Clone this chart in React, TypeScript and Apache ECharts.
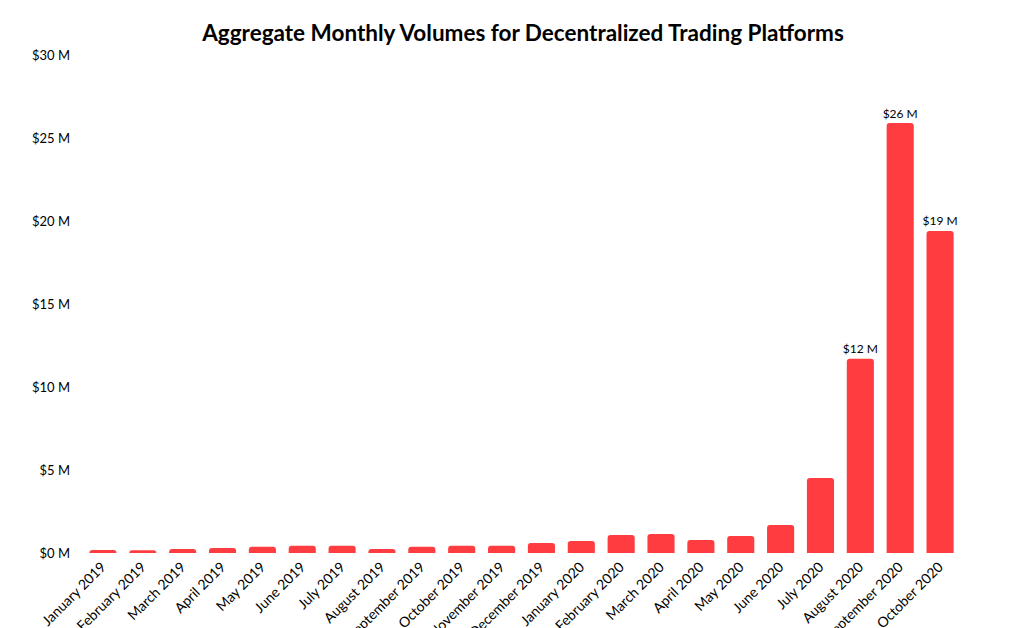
import React, { useEffect, useRef } from "react";
import * as echarts from "echarts";

const titleText = "Aggregate Monthly Volumes for Decentralized Trading Platforms";

const months = [
  "January 2019", "February 2019", "March 2019", "April 2019", "May 2019", "June 2019",
  "July 2019", "August 2019", "September 2019", "October 2019", "November 2019", "December 2019",
  "January 2020", "February 2020", "March 2020", "April 2020", "May 2020", "June 2020",
  "July 2020", "August 2020", "September 2020", "October 2020",
];

// monthly volume in $ millions
const volumes = [
  0.18, 0.17, 0.24, 0.3, 0.38, 0.44,
  0.44, 0.24, 0.38, 0.44, 0.44, 0.6,
  0.73, 1.08, 1.14, 0.78, 1.02, 1.69,
  4.52, 11.7, 25.9, 19.4,
];

const yTicks = [0, 5, 10, 15, 20, 25, 30];
const labelThreshold = 10;

export default function App() {
  const ref = useRef<HTMLDivElement>(null);

  useEffect(() => {
    if (!ref.current) return;
    const chart = echarts.init(ref.current, undefined, { renderer: "svg" });
    const font = "Lato, 'Open Sans', sans-serif";
    chart.setOption({
      animation: false,
      backgroundColor: "#ffffff",
      title: {
        text: titleText,
        left: 518,
        textAlign: "center",
        top: 16,
        textStyle: { fontFamily: font, fontSize: 22.5, fontWeight: "bold", color: "#000" },
      },
      grid: {
        left: 83,
        right: 50,
        top: 55,
        bottom: 75,
        containLabel: false,
        outerBoundsMode: "none",
      },
      xAxis: {
        type: "category",
        data: months,
        axisLine: { show: false },
        axisTick: { show: false },
        axisLabel: {
          rotate: 45,
          interval: 0,
          margin: 11,
          fontFamily: font,
          fontSize: 14,
          color: "#000",
        },
      },
      yAxis: {
        type: "value",
        min: yTicks[0],
        max: yTicks[yTicks.length - 1],
        interval: 5,
        splitLine: { show: false },
        axisLine: { show: false },
        axisTick: { show: false },
        axisLabel: {
          margin: 13,
          fontFamily: font,
          fontSize: 13,
          color: "#000",
          formatter: (v: number) => `$${v} M`,
        },
      },
      series: [
        {
          type: "bar",
          data: volumes.map((v) => ({
            value: v,
            label: {
              show: v > labelThreshold,
              position: "top",
              distance: 4,
              formatter: `$${Math.round(v)} M`,
              fontFamily: font,
              fontSize: 12,
              color: "#000",
            },
          })),
          barCategoryGap: "32%",
          itemStyle: { color: "#FF3C3F", borderRadius: [3, 3, 0, 0] },
        },
      ],
    });
    return () => chart.dispose();
  }, []);

  return (
    <div
      ref={ref}
      style={{ position: "fixed", left: 0, top: 0, width: 1010, height: 628 }}
    />
  );
}
